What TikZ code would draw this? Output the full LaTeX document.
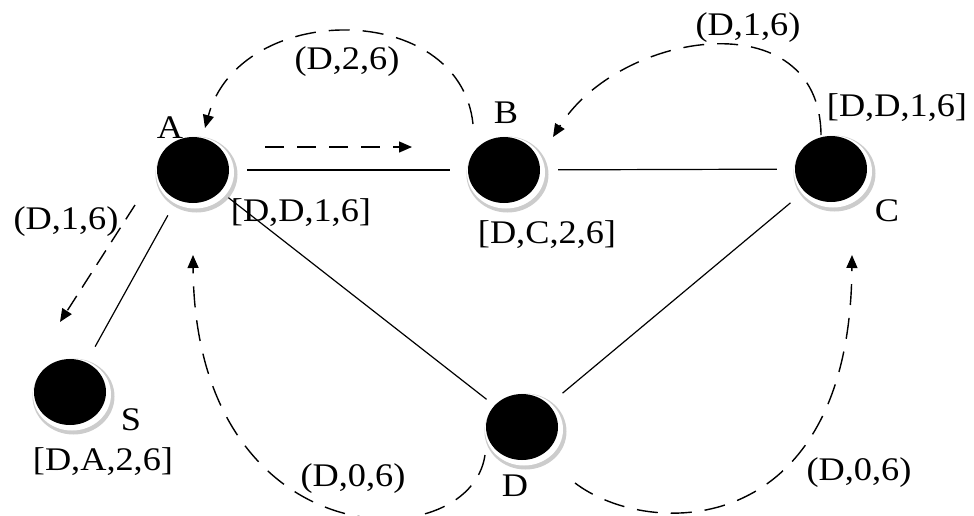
\documentclass[tikz,border=0pt]{standalone}
\usepackage{fontspec}
\setmainfont{Liberation Serif}[FakeStretch=1.1]
\usetikzlibrary{arrows.meta,shapes.geometric,backgrounds}
\begin{document}
\begin{tikzpicture}[x=1pt,y=-1pt,
  disc/.style={ellipse,fill=black,minimum width=72pt,minimum height=66pt,inner sep=0pt},
  lbl/.style={font=\fontsize{33}{36}\selectfont,inner sep=0pt},
  edge/.style={line width=1.2pt,shorten >=18pt,shorten <=18pt},
  msg/.style={line width=1.4pt,dash pattern=on 21pt off 13pt,-{Triangle[length=13pt,width=11pt]}}]
\useasboundingbox (0,0) rectangle (974,515);
% nodes
\node[disc] (A) at (193,170) {};
\node[disc] (B) at (504,170) {};
\node[disc] (C) at (831,169) {};
\node[disc] (S) at (70,392) {};
\node[disc] (D) at (522,427) {};
\begin{scope}[on background layer]
\foreach \n in {A,B,C,D,S}{
  \fill[gray!40] ([shift={(3.5,4.5)}]\n.center) ellipse [x radius=41pt,y radius=38pt];
  \fill[white] ([shift={(2,2.5)}]\n.center) ellipse [x radius=39pt,y radius=36pt];
}
\end{scope}
% node letters
\node[lbl] (lA) at (170,128) {A};
\node[lbl] (lB) at (506,113) {B};
\node[lbl] (lC) at (887,211) {C};
\node[lbl] (lS) at (131,420) {S};
\node[lbl] (lD) at (515,486) {D};
% tables
\node[lbl] (tA) at (301,213) {[D,D,1,6]};
\node[lbl] (tB) at (547,235) {[D,C,2,6]};
\node[lbl] (tC) at (897,108) {[D,D,1,6]};
\node[lbl] (tS) at (103,462) {[D,A,2,6]};
% message labels
\node[lbl] (m1) at (347,62) {(D,2,6)};
\node[lbl] (m2) at (748,28) {(D,1,6)};
\node[lbl] (m3) at (66,222) {(D,1,6)};
\node[lbl] (m4) at (353,479) {(D,0,6)};
\node[lbl] (m5) at (859,473) {(D,0,6)};
% links
\draw[edge] (A) -- (B);
\draw[edge] (B) -- (C);
\draw[edge] (A) -- (S);
\draw[edge,shorten >=10pt,shorten <=10pt] (A) -- (D);
\draw[edge] (D) -- (C);
% messages
\coordinate (ab0) at (265,147);
\coordinate (ab1) at (412,147);
\draw[msg,dash pattern=on 19pt off 13pt] (ab0) -- (ab1);
\coordinate (b0) at (473,124);
\coordinate (a1) at (205,128);
\draw[msg] (b0) .. controls (460,0) and (240,0) .. (a1);
\coordinate (c0) at (821,135);
\coordinate (b1) at (553,137);
\draw[msg] (c0) .. controls (820,0) and (620,30) .. (b1);
\coordinate (a2) at (135,205);
\coordinate (s1) at (60,322);
\draw[msg,dash pattern=on 17pt off 10pt] (a2) -- (s1);
\coordinate (d0) at (485,455);
\coordinate (a3) at (193,255);
\draw[msg] (d0) .. controls (470,560) and (195,560) .. (a3);
\coordinate (d1) at (575,483);
\coordinate (c1) at (852,255);
\draw[msg] (d1) .. controls (650,540) and (850,540) .. (c1);
\end{tikzpicture}
\end{document}
